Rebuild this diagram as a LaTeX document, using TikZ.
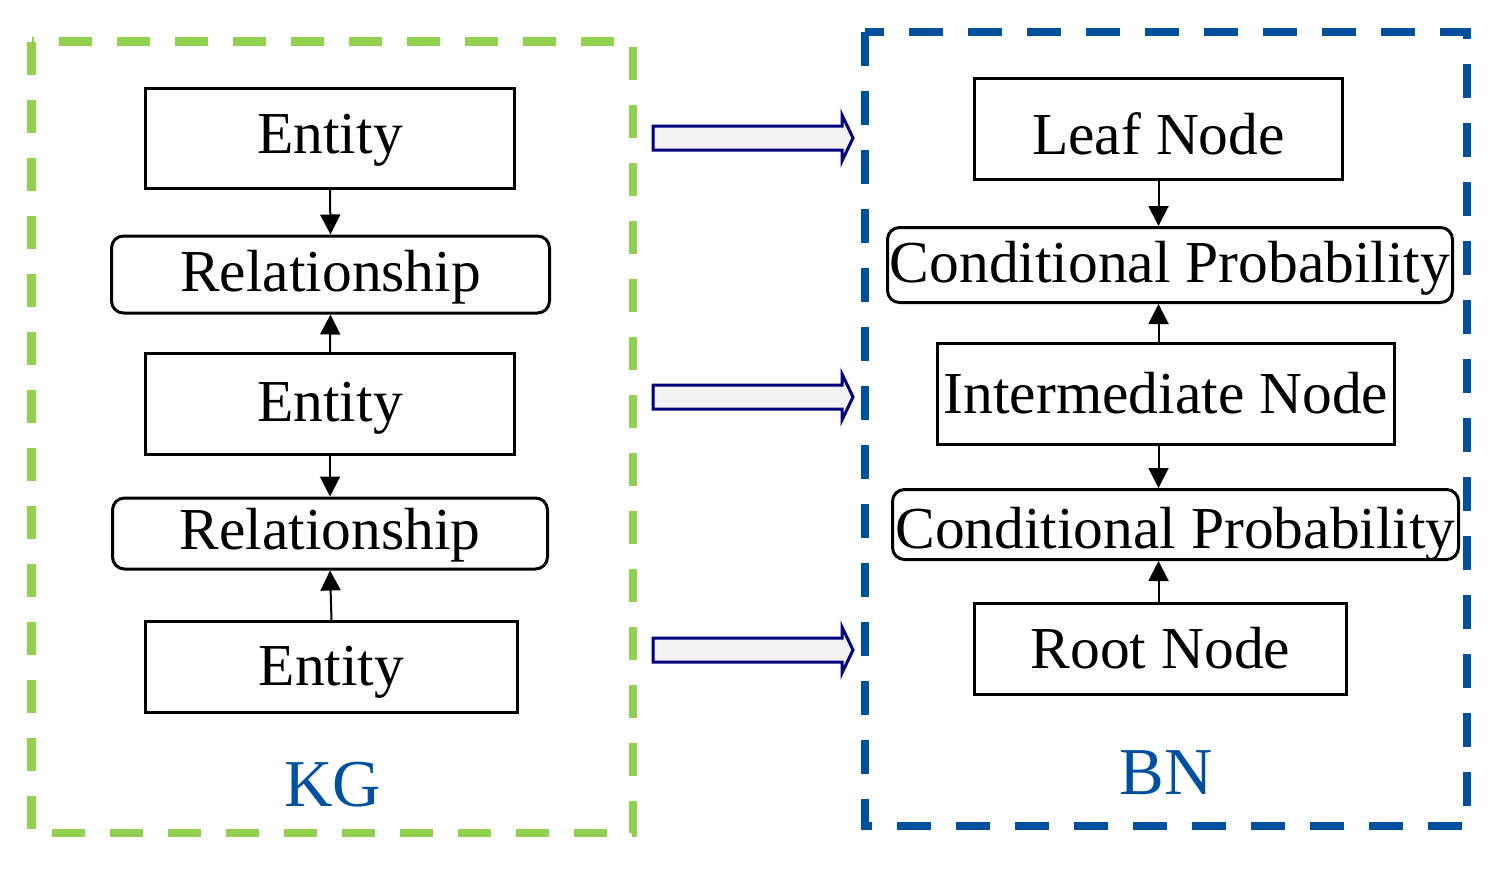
\documentclass[tikz,border=0pt]{standalone}
\usepackage{fontspec}
\setmainfont{Liberation Serif}
\usetikzlibrary{arrows.meta}
\definecolor{kggreen}{HTML}{92D050}
\definecolor{bnblue}{HTML}{0050A0}
\definecolor{arrnavy}{HTML}{000080}
\definecolor{arrfill}{HTML}{F2F2F2}
\begin{document}
\begin{tikzpicture}[x=1pt,y=-1pt,
  box/.style={draw=black, line width=3pt, inner sep=0pt, font=\fontsize{59.5}{62}\selectfont, text depth=0pt},
  relbox/.style={box, rounded corners=12pt},
  bl/.style={text height=#1},
  link/.style={line width=2pt, -{Triangle[width=20pt,length=20pt]}},
  kgframe/.style={draw=kggreen, line width=8.5pt, dash pattern=on 33pt off 25pt},
  bnframe/.style={draw=bnblue, line width=8pt, dash pattern=on 34pt off 25pt},
  framelabel/.style={font=\fontsize{67}{69}\selectfont, text=bnblue, inner sep=0pt},
  blockarrow/.style={draw=arrnavy, fill=arrfill, line width=3pt, line join=miter}
]
\useasboundingbox (0,0) rectangle (1499,870);

% frames
\draw[kgframe] (31.5,41.5) -- (31.5,833) -- (633,833) -- (633,41.5) -- cycle;
\draw[bnframe] (865,32) -- (865,826) -- (1467,826) -- (1467,32) -- cycle;

% KG column
\node[box, bl=29pt, minimum width=369pt, minimum height=100pt] (e1) at (330,138.5) {Entity};
\node[relbox, bl=34pt, minimum width=438pt, minimum height=77pt] (r1) at (330.5,274.5) {Relationship};
\node[box, bl=35pt, minimum width=369pt, minimum height=101pt] (e2) at (330,404) {Entity};
\node[relbox, bl=31pt, minimum width=435pt, minimum height=71pt] (r2) at (330,533.5) {Relationship};
\node[box, bl=36pt, minimum width=372pt, minimum height=91pt] (e3) at (331.5,667) {Entity};

\draw[link] (e1.south) -- (r1.north);
\draw[link] (e2.north) -- (r1.south);
\draw[link] (e2.south) -- (r2.north);
\draw[link] (e3.north) -- (r2.south);

% BN column
\node[box, bl=50pt, minimum width=368pt, minimum height=101pt] (leaf) at (1158.5,129) {Leaf Node};
\node[relbox, bl=34pt, minimum width=565pt, minimum height=75pt] (cp1) at (1170,265) {Conditional Probability};
\node[box, bl=39pt, minimum width=457pt, minimum height=101pt] (inter) at (1166,394) {Intermediate Node};
\node[relbox, bl=48pt, minimum width=566pt, minimum height=70pt] (cp2) at (1175.5,524.5) {Conditional Probability};
\node[box, bl=38pt, minimum width=372pt, minimum height=91pt] (root) at (1160.5,649) {Root Node};

\draw[link] (leaf.south) -- (leaf.south |- cp1.north);
\draw[link] (inter.north -| leaf.south) -- (cp1.south -| leaf.south);
\draw[link] (inter.south -| leaf.south) -- (cp2.north -| leaf.south);
\draw[link] (root.north -| leaf.south) -- (cp2.south -| leaf.south);

% frame labels
\node[framelabel] (kg) at (333,785) {KG};
\node[framelabel] (bn) at (1166,773) {BN};

% block arrows between the frames
\foreach \yy in {138,397,650}{
  \draw[blockarrow] (653,\yy-12) -- ++(189,0) -- ++(0,-11) -- ++(11,23) -- ++(-11,23) -- ++(0,-11) -- ++(-189,0) -- cycle;
}
\end{tikzpicture}
\end{document}
